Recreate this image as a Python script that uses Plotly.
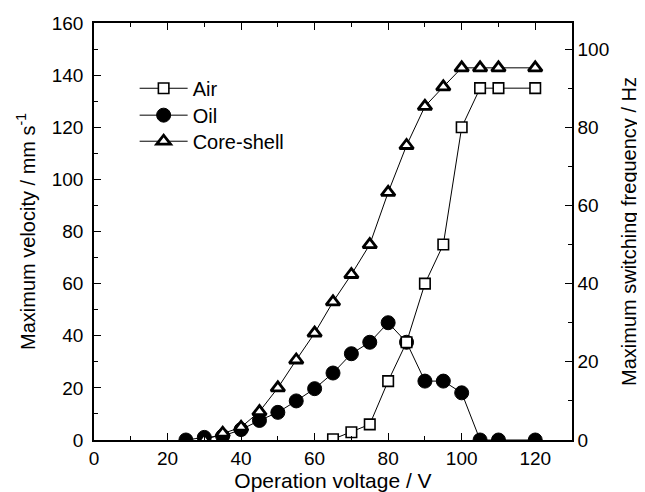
import plotly.graph_objects as go

# Operation voltage (V)
air_x = [65, 70, 75, 80, 85, 90, 95, 100, 105, 110, 120]
air_y = [0.3, 3, 6, 22.6, 37.5, 60, 75, 120, 135, 135, 135]

oil_x = [25, 30, 35, 40, 45, 50, 55, 60, 65, 70, 75, 80, 85, 90, 95, 100, 105, 110, 120]
oil_y = [0, 1, 1.5, 4, 7.5, 10.6, 15, 19.7, 25.7, 33.1, 37.5, 45, 37.5, 22.6, 22.6, 18.1, 0, 0, 0]

core_x = [30, 35, 40, 45, 50, 55, 60, 65, 70, 75, 80, 85, 90, 95, 100, 105, 110, 120]
core_y = [0, 2.6, 4.9, 10.9, 20, 30.7, 41, 53, 63.5, 75, 95, 113, 128, 135.5, 142.8, 142.8, 142.8, 142.8]

x_ticks = [0, 20, 40, 60, 80, 100, 120]
y_ticks = [0, 20, 40, 60, 80, 100, 120, 140, 160]
y2_ticks = [0, 20, 40, 60, 80, 100]

FONT = "Liberation Sans, Arial, sans-serif"

fig = go.Figure()
fig.add_trace(go.Scatter(
    x=oil_x, y=oil_y, name="Oil", mode="lines+markers", legend="legend2",
    line=dict(color="black", width=1),
    marker=dict(symbol="circle", size=14, color="black", line=dict(color="black", width=1)),
))
fig.add_trace(go.Scatter(
    x=air_x, y=air_y, name="Air", mode="lines+markers", legend="legend",
    line=dict(color="black", width=1),
    marker=dict(symbol="square", size=10.5, color="white", line=dict(color="black", width=1.6)),
))
fig.add_trace(go.Scatter(
    x=core_x, y=core_y, name="Core-shell", mode="lines+markers", legend="legend3",
    line=dict(color="black", width=1),
    marker=dict(symbol="triangle-up", size=12, color="white", line=dict(color="black", width=2.8)),
))
fig.add_trace(go.Scatter(x=[None], y=[None], yaxis="y2", showlegend=False, hoverinfo="skip"))

axis_common = dict(
    showline=True, linecolor="black", linewidth=1.5,
    ticks="inside", ticklen=7, tickwidth=1.2, tickcolor="black",
    showgrid=False, zeroline=False, automargin=False,
    tickfont=dict(family=FONT, size=19, color="black"),
)
minor = dict(dtick=10, ticks="inside", ticklen=4, tickcolor="black", tickwidth=1.2)

def leg(y):
    return dict(
        x=0.085, y=y, xanchor="left", yanchor="middle",
        bgcolor="rgba(0,0,0,0)", font=dict(family=FONT, size=20, color="black"),
        itemwidth=48, tracegroupgap=0,
    )

fig.update_layout(
    width=637, height=484,
    paper_bgcolor="white", plot_bgcolor="white",
    margin=dict(l=86, r=73, t=15, b=52),
    font=dict(family=FONT, color="black"),
    xaxis=dict(
        range=[0, 130], tickvals=x_ticks, mirror="ticks", minor=minor,
        title=dict(text="Operation voltage / V", font=dict(family=FONT, size=21), standoff=2),
        **axis_common,
    ),
    yaxis=dict(
        range=[0, 160], tickvals=y_ticks, minor=minor, ticklabelstandoff=5,
        title=dict(text="Maximum velocity / mm s<sup>-1</sup>", font=dict(family=FONT, size=20), standoff=11),
        **axis_common,
    ),
    yaxis2=dict(
        range=[0, 160 / 1.5], tickvals=y2_ticks, overlaying="y", side="right", minor=minor,
        title=dict(text="Maximum switching frequency / Hz", font=dict(family=FONT, size=20), standoff=14),
        **axis_common,
    ),
    legend=leg(0.8435),
    legend2=leg(0.779),
    legend3=leg(0.7165),
)

fig.write_html("out.html")
